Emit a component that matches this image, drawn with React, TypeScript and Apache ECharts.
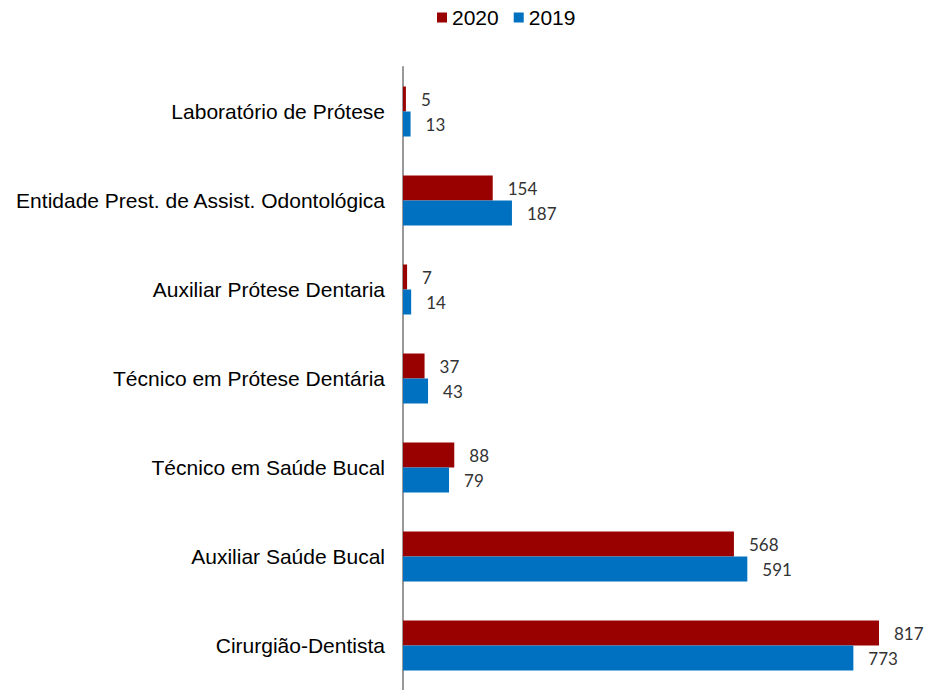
import React, { useEffect, useRef } from "react";
import * as echarts from "echarts";

const categories = [
  "Laboratório de Prótese",
  "Entidade Prest. de Assist. Odontológica",
  "Auxiliar Prótese Dentaria",
  "Técnico em Prótese Dentária",
  "Técnico em Saúde Bucal",
  "Auxiliar Saúde Bucal",
  "Cirurgião-Dentista",
];
const values2020 = [5, 154, 7, 37, 88, 568, 817];
const values2019 = [13, 187, 14, 43, 79, 591, 773];

export default function App() {
  const ref = useRef<HTMLDivElement>(null);
  useEffect(() => {
    if (!ref.current) return;
    const chart = echarts.init(ref.current, null, { renderer: "svg" });
    const labelStyle = {
      show: true,
      position: "right",
      distance: 15,
      fontFamily: "Lato",
      fontSize: 17,
      color: "#333333",
    };
    chart.setOption({
      animation: false,
      backgroundColor: "#ffffff",
      legend: {
        left: 437,
        top: 7,
        padding: 0,
        icon: "rect",
        itemWidth: 10,
        itemHeight: 10,
        itemGap: 15,
        textStyle: {
          fontFamily: "Liberation Sans",
          fontSize: 21,
          color: "#000000",
        },
        data: ["2020", "2019"],
      },
      grid: { left: 403, right: 46, top: 67, height: 625.4, containLabel: false },
      xAxis: {
        type: "value",
        min: 0,
        max: "dataMax",
        show: false,
      },
      yAxis: {
        type: "category",
        inverse: true,
        data: categories,
        axisLine: { show: true, lineStyle: { color: "#999999", width: 2 } },
        axisTick: { show: false },
        axisLabel: {
          margin: 18,
          fontFamily: "Liberation Sans",
          fontSize: 21,
          color: "#000000",
        },
      },
      series: [
        {
          name: "2020",
          type: "bar",
          data: values2020,
          barWidth: 25,
          barGap: "0%",
          itemStyle: { color: "#990000" },
          label: labelStyle,
        },
        {
          name: "2019",
          type: "bar",
          data: values2019,
          barWidth: 25,
          barGap: "0%",
          itemStyle: { color: "#0070C0" },
          label: labelStyle,
        },
      ],
    });
    return () => chart.dispose();
  }, []);
  return (
    <div
      ref={ref}
      style={{ position: "absolute", left: 0, top: 0, width: 925, height: 690 }}
    />
  );
}
